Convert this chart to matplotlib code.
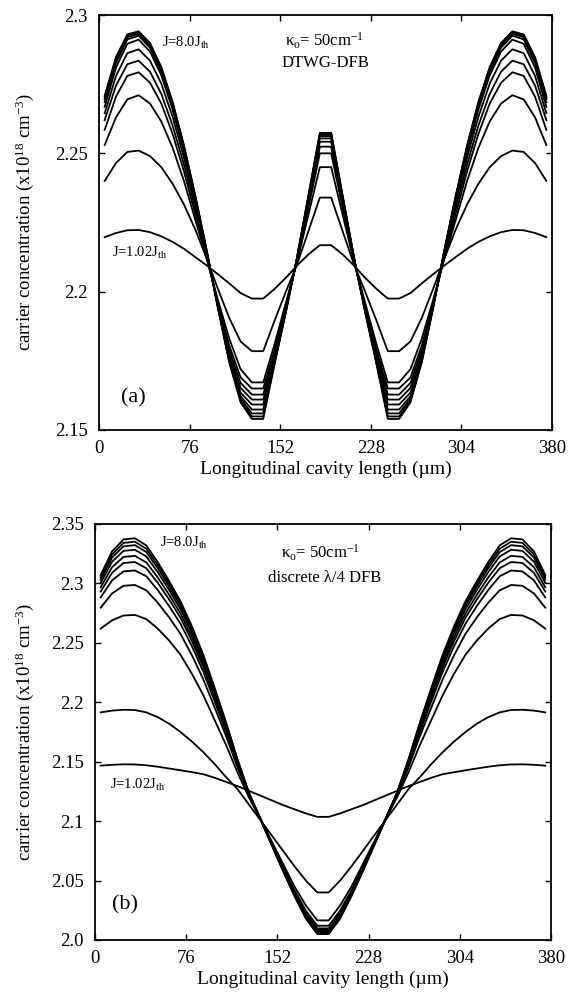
import numpy as np
import matplotlib
matplotlib.use('Agg')
import matplotlib.pyplot as plt

plt.rcParams['font.family'] = ['Liberation Serif', 'DejaVu Serif']
plt.rcParams['mathtext.fontset'] = 'custom'
plt.rcParams['mathtext.rm'] = 'Liberation Serif'
plt.rcParams['mathtext.it'] = 'Liberation Serif:italic'

# positions along the cavity (um)
x_pos = np.arange(4.75, 380, 9.5)

# (a) DTWG-DFB, J = 1.02 Jth ... 8.0 Jth
top_1 = [2.2197, 2.2212, 2.2222, 2.2223, 2.2215, 2.2200, 2.2180, 2.2155, 2.2125, 2.2095,
         2.2063, 2.2030, 2.1995, 2.1975, 2.1975, 2.2010, 2.2050, 2.2095, 2.2135, 2.2168,
         2.2168, 2.2135, 2.2095, 2.2050, 2.2010, 2.1975, 2.1975, 2.1995, 2.2030, 2.2063,
         2.2095, 2.2125, 2.2155, 2.2180, 2.2200, 2.2215, 2.2223, 2.2222, 2.2212, 2.2197]
top_2 = [2.2400, 2.2465, 2.2505, 2.2510, 2.2490, 2.2450, 2.2390, 2.2315, 2.2225, 2.2120,
         2.2010, 2.1905, 2.1820, 2.1785, 2.1785, 2.1895, 2.2000, 2.2100, 2.2220, 2.2340,
         2.2340, 2.2220, 2.2100, 2.2000, 2.1895, 2.1785, 2.1785, 2.1820, 2.1905, 2.2010,
         2.2120, 2.2225, 2.2315, 2.2390, 2.2450, 2.2490, 2.2510, 2.2505, 2.2465, 2.2400]
top_3 = [2.2530, 2.2630, 2.2695, 2.2710, 2.2680, 2.2615, 2.2520, 2.2400, 2.2260, 2.2120,
         2.1970, 2.1830, 2.1720, 2.1672, 2.1672, 2.1810, 2.1960, 2.2110, 2.2280, 2.2450,
         2.2450, 2.2280, 2.2110, 2.1960, 2.1810, 2.1672, 2.1672, 2.1720, 2.1830, 2.1970,
         2.2120, 2.2260, 2.2400, 2.2520, 2.2615, 2.2680, 2.2710, 2.2695, 2.2630, 2.2530]
top_4 = [2.2585, 2.2705, 2.2780, 2.2793, 2.2755, 2.2680, 2.2570, 2.2435, 2.2280, 2.2125,
         2.1960, 2.1805, 2.1690, 2.1650, 2.1650, 2.1790, 2.1950, 2.2115, 2.2305, 2.2500,
         2.2500, 2.2305, 2.2115, 2.1950, 2.1790, 2.1650, 2.1650, 2.1690, 2.1805, 2.1960,
         2.2125, 2.2280, 2.2435, 2.2570, 2.2680, 2.2755, 2.2793, 2.2780, 2.2705, 2.2585]
top_5 = [2.2620, 2.2745, 2.2822, 2.2835, 2.2795, 2.2715, 2.2600, 2.2460, 2.2300, 2.2130,
         2.1955, 2.1790, 2.1670, 2.1628, 2.1628, 2.1780, 2.1945, 2.2115, 2.2315, 2.2524,
         2.2524, 2.2315, 2.2115, 2.1945, 2.1780, 2.1628, 2.1628, 2.1670, 2.1790, 2.1955,
         2.2130, 2.2300, 2.2460, 2.2600, 2.2715, 2.2795, 2.2835, 2.2822, 2.2745, 2.2620]
top_6 = [2.2645, 2.2780, 2.2862, 2.2876, 2.2835, 2.2752, 2.2632, 2.2485, 2.2318, 2.2138,
         2.1952, 2.1778, 2.1652, 2.1610, 2.1610, 2.1770, 2.1940, 2.2120, 2.2325, 2.2542,
         2.2542, 2.2325, 2.2120, 2.1940, 2.1770, 2.1610, 2.1610, 2.1652, 2.1778, 2.1952,
         2.2138, 2.2318, 2.2485, 2.2632, 2.2752, 2.2835, 2.2876, 2.2862, 2.2780, 2.2645]
top_7 = [2.2668, 2.2810, 2.2896, 2.2911, 2.2868, 2.2782, 2.2658, 2.2505, 2.2330, 2.2142,
         2.1948, 2.1765, 2.1635, 2.1592, 2.1592, 2.1760, 2.1935, 2.2122, 2.2333, 2.2554,
         2.2554, 2.2333, 2.2122, 2.1935, 2.1760, 2.1592, 2.1592, 2.1635, 2.1765, 2.1948,
         2.2142, 2.2330, 2.2505, 2.2658, 2.2782, 2.2868, 2.2911, 2.2896, 2.2810, 2.2668]
top_8 = [2.2685, 2.2826, 2.2912, 2.2925, 2.2882, 2.2795, 2.2670, 2.2515, 2.2338, 2.2146,
         2.1946, 2.1757, 2.1622, 2.1574, 2.1574, 2.1752, 2.1932, 2.2124, 2.2340, 2.2562,
         2.2562, 2.2340, 2.2124, 2.1932, 2.1752, 2.1574, 2.1574, 2.1622, 2.1757, 2.1946,
         2.2146, 2.2338, 2.2515, 2.2670, 2.2795, 2.2882, 2.2925, 2.2912, 2.2826, 2.2685]
top_9 = [2.2695, 2.2836, 2.2920, 2.2932, 2.2890, 2.2803, 2.2677, 2.2521, 2.2342, 2.2148,
         2.1944, 2.1752, 2.1613, 2.1560, 2.1560, 2.1746, 2.1930, 2.2125, 2.2344, 2.2567,
         2.2567, 2.2344, 2.2125, 2.1930, 2.1746, 2.1560, 2.1560, 2.1613, 2.1752, 2.1944,
         2.2148, 2.2342, 2.2521, 2.2677, 2.2803, 2.2890, 2.2932, 2.2920, 2.2836, 2.2695]
top_10 = [2.2702, 2.2843, 2.2926, 2.2937, 2.2895, 2.2808, 2.2682, 2.2525, 2.2345, 2.2150,
          2.1942, 2.1748, 2.1606, 2.1549, 2.1549, 2.1742, 2.1928, 2.2126, 2.2347, 2.2571,
          2.2571, 2.2347, 2.2126, 2.1928, 2.1742, 2.1549, 2.1549, 2.1606, 2.1748, 2.1942,
          2.2150, 2.2345, 2.2525, 2.2682, 2.2808, 2.2895, 2.2937, 2.2926, 2.2843, 2.2702]
top_11 = [2.2708, 2.2848, 2.2930, 2.2941, 2.2899, 2.2812, 2.2686, 2.2528, 2.2347, 2.2151,
          2.1941, 2.1745, 2.1600, 2.1540, 2.1540, 2.1738, 2.1926, 2.2127, 2.2350, 2.2574,
          2.2574, 2.2350, 2.2127, 2.1926, 2.1738, 2.1540, 2.1540, 2.1600, 2.1745, 2.1941,
          2.2151, 2.2347, 2.2528, 2.2686, 2.2812, 2.2899, 2.2941, 2.2930, 2.2848, 2.2708]

# (b) discrete lambda/4 DFB
bot_1 = [2.1467, 2.1474, 2.1478, 2.1477, 2.1470, 2.1458, 2.1443, 2.1428, 2.1412, 2.1395,
         2.1365, 2.1330, 2.1295, 2.1255, 2.1215, 2.1175, 2.1135, 2.1100, 2.1065, 2.1036,
         2.1036, 2.1065, 2.1100, 2.1135, 2.1175, 2.1215, 2.1255, 2.1295, 2.1330, 2.1365,
         2.1395, 2.1412, 2.1428, 2.1443, 2.1458, 2.1470, 2.1477, 2.1478, 2.1474, 2.1467]
bot_2 = [2.1915, 2.1930, 2.1937, 2.1935, 2.1915, 2.1875, 2.1820, 2.1750, 2.1670, 2.1580,
         2.1480, 2.1370, 2.1270, 2.1140, 2.1010, 2.0880, 2.0750, 2.0620, 2.0500, 2.0400,
         2.0400, 2.0500, 2.0620, 2.0750, 2.0880, 2.1010, 2.1140, 2.1270, 2.1370, 2.1480,
         2.1580, 2.1670, 2.1750, 2.1820, 2.1875, 2.1915, 2.1935, 2.1937, 2.1930, 2.1915]
bot_3 = [2.2620, 2.2690, 2.2730, 2.2735, 2.2700, 2.2620, 2.2520, 2.2400, 2.2240, 2.2060,
         2.1850, 2.1640, 2.1410, 2.1200, 2.1020, 2.0830, 2.0640, 2.0450, 2.0290, 2.0165,
         2.0165, 2.0290, 2.0450, 2.0640, 2.0830, 2.1020, 2.1200, 2.1410, 2.1640, 2.1850,
         2.2060, 2.2240, 2.2400, 2.2520, 2.2620, 2.2700, 2.2735, 2.2730, 2.2690, 2.2620]
bot_4 = [2.2796, 2.2916, 2.2980, 2.2987, 2.2942, 2.2838, 2.2715, 2.2576, 2.2396, 2.2193,
         2.1955, 2.1714, 2.1453, 2.1216, 2.1020, 2.0818, 2.0617, 2.0419, 2.0247, 2.0120,
         2.0120, 2.0247, 2.0419, 2.0617, 2.0818, 2.1020, 2.1216, 2.1453, 2.1714, 2.1955,
         2.2193, 2.2396, 2.2576, 2.2715, 2.2838, 2.2942, 2.2987, 2.2980, 2.2916, 2.2796]
bot_5 = [2.2882, 2.3026, 2.3101, 2.3109, 2.3060, 2.2945, 2.2810, 2.2661, 2.2472, 2.2257,
         2.2007, 2.1750, 2.1474, 2.1223, 2.1020, 2.0813, 2.0605, 2.0404, 2.0226, 2.0098,
         2.0098, 2.0226, 2.0404, 2.0605, 2.0813, 2.1020, 2.1223, 2.1474, 2.1750, 2.2007,
         2.2257, 2.2472, 2.2661, 2.2810, 2.2945, 2.3060, 2.3109, 2.3101, 2.3026, 2.2882]
bot_6 = [2.2932, 2.3090, 2.3172, 2.3180, 2.3128, 2.3006, 2.2865, 2.2711, 2.2516, 2.2295,
         2.2036, 2.1771, 2.1486, 2.1228, 2.1020, 2.0809, 2.0599, 2.0395, 2.0214, 2.0086,
         2.0086, 2.0214, 2.0395, 2.0599, 2.0809, 2.1020, 2.1228, 2.1486, 2.1771, 2.2036,
         2.2295, 2.2516, 2.2711, 2.2865, 2.3006, 2.3128, 2.3180, 2.3172, 2.3090, 2.2932]
bot_7 = [2.2968, 2.3137, 2.3223, 2.3232, 2.3177, 2.3051, 2.2905, 2.2747, 2.2548, 2.2322,
         2.2058, 2.1786, 2.1495, 2.1231, 2.1020, 2.0807, 2.0594, 2.0388, 2.0205, 2.0076,
         2.0076, 2.0205, 2.0388, 2.0594, 2.0807, 2.1020, 2.1231, 2.1495, 2.1786, 2.2058,
         2.2322, 2.2548, 2.2747, 2.2905, 2.3051, 2.3177, 2.3232, 2.3223, 2.3137, 2.2968]
bot_8 = [2.3004, 2.3183, 2.3274, 2.3283, 2.3227, 2.3096, 2.2945, 2.2783, 2.2580, 2.2349,
         2.2080, 2.1802, 2.1504, 2.1234, 2.1020, 2.0804, 2.0589, 2.0382, 2.0196, 2.0067,
         2.0067, 2.0196, 2.0382, 2.0589, 2.0804, 2.1020, 2.1234, 2.1504, 2.1802, 2.2080,
         2.2349, 2.2580, 2.2783, 2.2945, 2.3096, 2.3227, 2.3283, 2.3274, 2.3183, 2.3004]
bot_9 = [2.3031, 2.3218, 2.3312, 2.3322, 2.3264, 2.3130, 2.2975, 2.2810, 2.2604, 2.2369,
         2.2096, 2.1813, 2.1510, 2.1236, 2.1020, 2.0803, 2.0585, 2.0377, 2.0190, 2.0060,
         2.0060, 2.0190, 2.0377, 2.0585, 2.0803, 2.1020, 2.1236, 2.1510, 2.1813, 2.2096,
         2.2369, 2.2604, 2.2810, 2.2975, 2.3130, 2.3264, 2.3322, 2.3312, 2.3218, 2.3031]
bot_10 = [2.3052, 2.3244, 2.3341, 2.3351, 2.3292, 2.3155, 2.2998, 2.2830, 2.2622, 2.2385,
          2.2108, 2.1821, 2.1515, 2.1238, 2.1020, 2.0801, 2.0583, 2.0374, 2.0185, 2.0055,
          2.0055, 2.0185, 2.0374, 2.0583, 2.0801, 2.1020, 2.1238, 2.1515, 2.1821, 2.2108,
          2.2385, 2.2622, 2.2830, 2.2998, 2.3155, 2.3292, 2.3351, 2.3341, 2.3244, 2.3052]
bot_11 = [2.3072, 2.3270, 2.3370, 2.3380, 2.3320, 2.3180, 2.3020, 2.2850, 2.2640, 2.2400,
          2.2120, 2.1830, 2.1520, 2.1240, 2.1020, 2.0800, 2.0580, 2.0370, 2.0180, 2.0050,
          2.0050, 2.0180, 2.0370, 2.0580, 2.0800, 2.1020, 2.1240, 2.1520, 2.1830, 2.2120,
          2.2400, 2.2640, 2.2850, 2.3020, 2.3180, 2.3320, 2.3380, 2.3370, 2.3270, 2.3072]

top_curves = [top_1, top_2, top_3, top_4, top_5, top_6, top_7, top_8, top_9, top_10, top_11]
bot_curves = [bot_1, bot_2, bot_3, bot_4, bot_5, bot_6, bot_7, bot_8, bot_9, bot_10, bot_11]

x_ticks = [0, 76, 152, 228, 304, 380]
top_yticks = [2.15, 2.2, 2.25, 2.3]
top_ylabels = ['2.15', '2.2', '2.25', '2.3']
bot_yticks = [2.0, 2.05, 2.1, 2.15, 2.2, 2.25, 2.3, 2.35]
bot_ylabels = ['2.0', '2.05', '2.1', '2.15', '2.2', '2.25', '2.3', '2.35']

xlab = 'Longitudinal cavity length (\u00b5m)'
ylab = r'carrier concentration (x10$^{\mathrm{18}}$ cm$^{\mathrm{-3}}$)'

fig = plt.figure(figsize=(5.74, 10), dpi=100)
ax1 = fig.add_axes([0.1725, 0.570, 0.7892, 0.415])
ax2 = fig.add_axes([0.1655, 0.060, 0.7944, 0.416])


def style(ax, yticks, ylabels, ylim):
    ax.set_xlim(0, 380)
    ax.set_ylim(*ylim)
    ax.set_xticks(x_ticks)
    ax.set_xticklabels([str(t) for t in x_ticks])
    ax.set_yticks(yticks)
    ax.set_yticklabels(ylabels)
    ax.tick_params(direction='in', top=True, right=True, length=4, width=1.0,
                   labelsize=13.5)
    ax.tick_params(axis='y', pad=8)
    ax.tick_params(axis='x', pad=7)
    for s in ax.spines.values():
        s.set_linewidth(1.3)
    ax.set_xlabel(xlab, fontsize=14, labelpad=3)
    ax.set_ylabel(ylab, fontsize=13.5)


for c in top_curves:
    ax1.plot(x_pos, c, color='black', lw=1.3)
style(ax1, top_yticks, top_ylabels, (2.15, 2.3))
ax1.yaxis.set_label_coords(-0.14, 0.5)
ax1.text(53, 2.290, r'J=8.0J$_{\mathrm{th}}$', fontsize=10.5, va='center')
ax1.text(189, 2.2907, r'$\mathrm{\kappa_o}$= 50cm$^{\mathrm{-1}}$', fontsize=12, ha='center', va='center')
ax1.text(190, 2.2825, 'DTWG-DFB', fontsize=12, ha='center', va='center')
ax1.text(11, 2.2140, r'J=1.02J$_{\mathrm{th}}$', fontsize=10.5, va='center')
ax1.text(18.5, 2.1616, '(a)', fontsize=16, va='center')

for c in bot_curves:
    ax2.plot(x_pos, c, color='black', lw=1.3)
style(ax2, bot_yticks, bot_ylabels, (2.0, 2.35))
ax2.yaxis.set_label_coords(-0.13, 0.5)
ax2.text(54, 2.3338, r'J=8.0J$_{\mathrm{th}}$', fontsize=10.5, va='center')
ax2.text(188, 2.3256, r'$\mathrm{\kappa_o}$= 50cm$^{\mathrm{-1}}$', fontsize=12, ha='center', va='center')
ax2.text(191, 2.3043, 'discrete \u03bb/4 DFB', fontsize=12, ha='center', va='center')
ax2.text(12.8, 2.1305, r'J=1.02J$_{\mathrm{th}}$', fontsize=10.5, va='center')
ax2.text(14, 2.0296, '(b)', fontsize=16, va='center')

fig.savefig('out.png', dpi=100)
